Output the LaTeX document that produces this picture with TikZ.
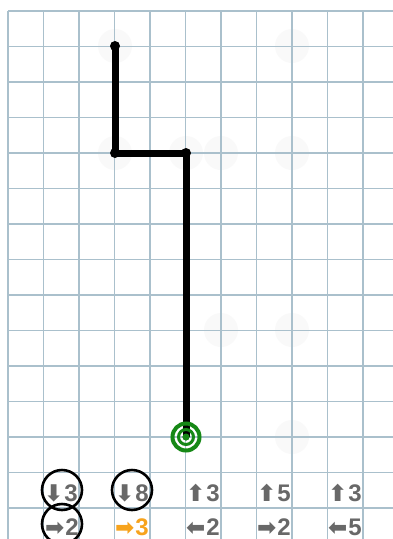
\documentclass[tikz,border=0pt]{standalone}
\usepackage{fontspec}
\setmainfont{Liberation Sans}[BoldFont={Liberation Sans Bold}]
\newfontfamily\arrowfont{DejaVu Sans}[BoldFont={DejaVu Sans Bold}]
\usetikzlibrary{calc}

\definecolor{gridblue}{RGB}{170,192,204}
\definecolor{movegray}{RGB}{104,104,104}
\definecolor{moveorange}{RGB}{247,163,28}
\definecolor{goalgreen}{RGB}{22,136,22}
\definecolor{hintgray}{RGB}{249,249,249}

\newcommand{\dirmove}[2]{\smash{\arrowfont\bfseries\fontsize{23}{23}\selectfont #1}\kern1pt#2}

\begin{document}
\begin{tikzpicture}[x=1pt, y=-1pt,
gridline/.style={draw=gridblue, line width=1.4pt},
hint/.style={fill=hintgray},
vtx/.style={circle, fill=black, inner sep=0pt, minimum size=10pt},
route/.style={line width=7pt},
goal/.style={circle, fill=goalgreen, inner sep=0pt, minimum size=7pt},
goalring/.style={draw=goalgreen},
move/.style={anchor=base east, inner sep=0pt, text=movegray, font=\fontsize{24}{24}\selectfont\bfseries},
ring/.style={draw=black, line width=2.6pt}
]
\useasboundingbox (0,0) rectangle (393,539);
\fill[white] (0,0) rectangle (393,539);

% faint marks
\foreach \x/\y in {115/46,115/153,186/153,221/153,292/46,292/153,221/330,292/330,292/437}
  \fill[hint] (\x,\y) circle (17);

% grid
\foreach \i in {0,...,10}
  \draw[gridline] ({8+35.5*\i},11) -- ({8+35.5*\i},539);
\foreach \j in {0,...,14}
  \draw[gridline] (8,{11+35.5*\j}) -- (393,{11+35.5*\j});

% path
\node[vtx] (v1) at (115,46) {};
\node[vtx] (v2) at (115,153) {};
\node[vtx] (v3) at (186,153) {};
\node[goal] (goal) at (186,437) {};
\draw[route] (v1.center) -- (v2.center) -- (v3.center) -- (goal.center);

% target
\draw[goalring, line width=4pt] (goal) circle (13.5);
\draw[goalring, line width=3pt] (goal) circle (7.5);
\fill[goalgreen] (goal) circle (3.5);

% moves
\node[move] (d1) at (78,501) {\dirmove{⬇}{3}};
\node[move] (d2) at (149,501) {\dirmove{⬇}{8}};
\node[move] (d3) at (220,501) {\dirmove{⬆}{3}};
\node[move] (d4) at (291,501) {\dirmove{⬆}{5}};
\node[move] (d5) at (362,501) {\dirmove{⬆}{3}};
\node[move] (r1) at (79,535.5) {\dirmove{➡}{2}};
\node[move, text=moveorange] (r2) at (149,535.5) {\dirmove{➡}{3}};
\node[move] (r3) at (220,535.5) {\dirmove{⬅}{2}};
\node[move] (r4) at (291,535.5) {\dirmove{➡}{2}};
\node[move] (r5) at (362,535.5) {\dirmove{⬅}{5}};

\draw[ring] (62,490) circle (20);
\draw[ring] (62,524) circle (20);
\draw[ring] (132,490) circle (20);
\end{tikzpicture}
\end{document}
